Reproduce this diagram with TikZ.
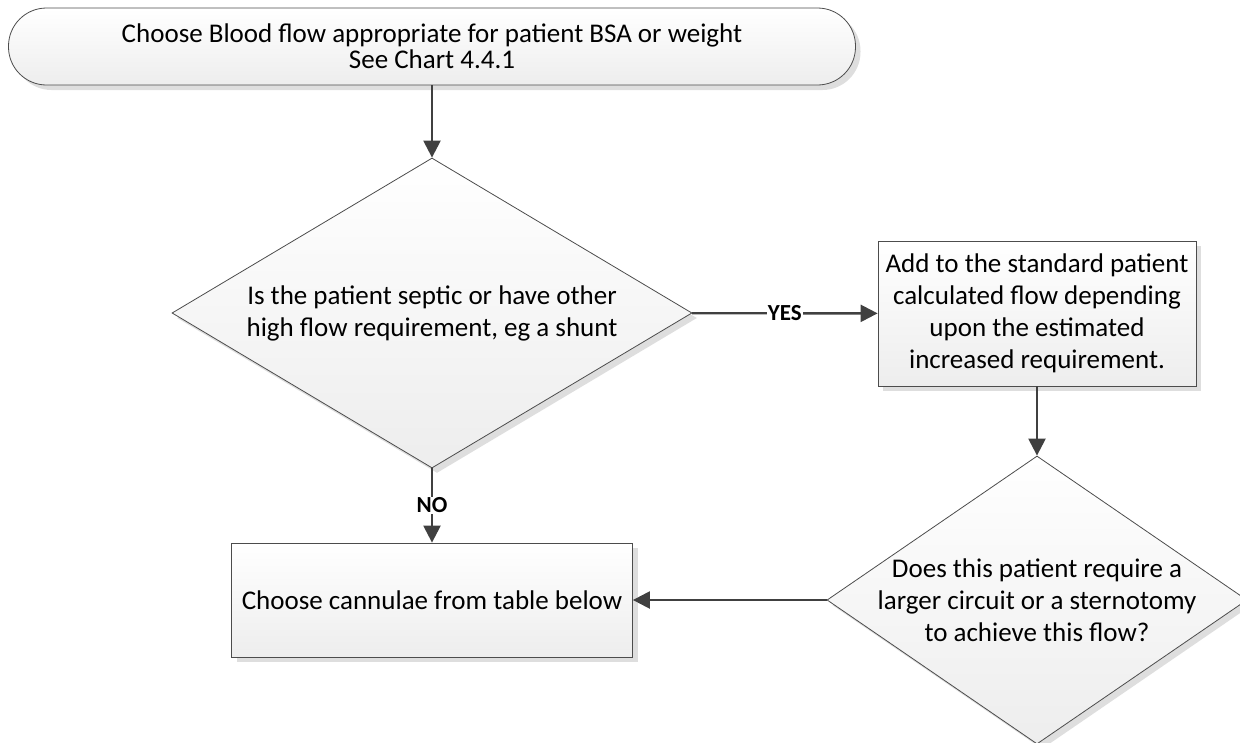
\documentclass[tikz,border=0pt]{standalone}
\usepackage{fontspec}
\setmainfont{Carlito}
\usetikzlibrary{arrows.meta,shapes.geometric,shadows}

\begin{document}
\begin{tikzpicture}[x=1pt, y=-1pt,
        font=\fontsize{27}{32}\selectfont,
        shaded/.style={draw=black!70, line width=0.8pt, top color=white, bottom color=black!7,
            drop shadow={shadow xshift=5pt, shadow yshift=-5pt, fill=black!13, opacity=1},
            align=center, inner sep=0pt},
        terminal/.style={shaded, rounded corners=38pt, minimum width=847pt, minimum height=77pt,
            font=\fontsize{27}{26}\selectfont},
        process/.style={shaded, rectangle},
        decision/.style={shaded, diamond},
        flow/.style={draw=black!75, line width=2.4pt, -{Triangle[length=17pt, width=17pt]}},
        answer/.style={fill=white, inner sep=1pt, font=\fontsize{23}{28}\selectfont\bfseries}]
        \useasboundingbox (0,0) rectangle (1240,742);

        \node[terminal] (start) at (432,46.5) {Choose Blood flow appropriate for patient BSA or weight\\See Chart 4.4.1};
        \node[decision, minimum width=520pt, minimum height=310pt, shape aspect=1.66] (septic) at (432,313) {Is the patient septic or have other\\high flow requirement, eg a shunt};
        \node[process, minimum width=318pt, minimum height=145pt] (add) at (1037,313.5) {Add to the standard patient\\calculated flow depending\\upon the estimated\\increased requirement.};
        \node[decision, minimum width=420pt, minimum height=288pt, shape aspect=1.46, inner xsep=-24pt] (larger) at (1037,600) {Does this patient require a\\larger circuit or a sternotomy\\to achieve this flow?};
        \node[process, minimum width=401pt, minimum height=114pt] (cannulae) at (432,600) {Choose cannulae from table below};

        \draw[flow] (start) -- (septic);
        \draw[flow] (septic) -- node[answer]{YES} (add);
        \draw[flow] (septic) -- node[answer]{NO} (cannulae);
        \draw[flow] (add) -- (larger);
        \draw[flow] (larger) -- (cannulae);
    \end{tikzpicture}
\end{document}
